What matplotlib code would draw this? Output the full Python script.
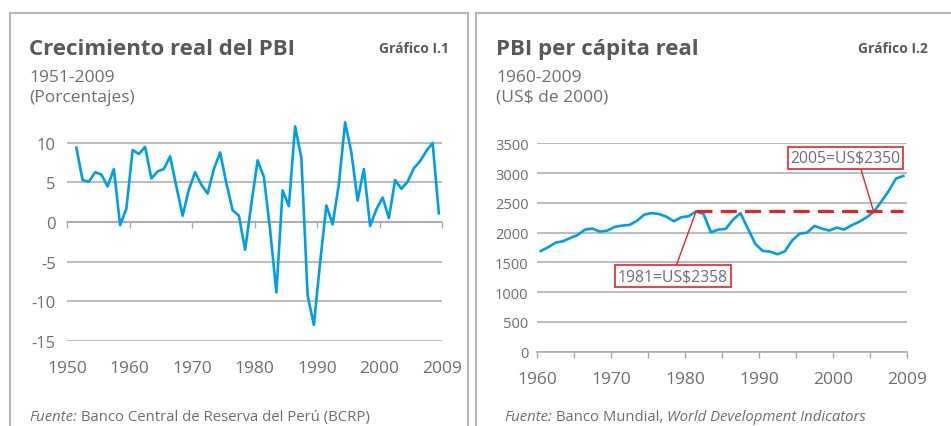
"""
Peru: real GDP growth (1951-2009) and real GDP per capita (1960-2009),
two framed panels side by side.
"""

import matplotlib.pyplot as plt
import numpy as np
from matplotlib.patches import Rectangle

# --- Data --------------------------------------------------------------------
growth_years = np.arange(1951, 2010)
growth_pct = [
    9.4, 5.3, 5.1, 6.3, 6.0, 4.5, 6.7, -0.4, 1.7, 9.1,      # 1951-1960
    8.6, 9.5, 5.5, 6.4, 6.7, 8.3, 4.5, 0.8, 4.1, 6.3,       # 1961-1970
    4.7, 3.6, 6.7, 8.8, 4.9, 1.5, 0.8, -3.5, 2.3, 7.8,      # 1971-1980
    5.7, -1.0, -8.9, 4.0, 2.0, 12.1, 8.1, -9.3, -13.0, -5.1,  # 1981-1990
    2.1, -0.3, 4.8, 12.6, 8.8, 2.7, 6.7, -0.5, 1.6, 3.1,    # 1991-2000
    0.5, 5.3, 4.2, 5.1, 6.8, 7.7, 9.0, 10.0, 1.1,           # 2001-2009
]

pc_years = np.arange(1960, 2010)
pc_usd = [
    1691, 1753, 1831, 1854, 1910, 1961, 2051, 2067, 2017, 2034,  # 1960s
    2096, 2118, 2129, 2197, 2303, 2328, 2312, 2266, 2191, 2258,  # 1970s
    2275, 2358, 2315, 2006, 2051, 2062, 2219, 2326, 2067, 1810,  # 1980s
    1692, 1681, 1636, 1686, 1871, 1983, 2000, 2112, 2067, 2034,  # 1990s
    2084, 2050, 2123, 2179, 2252, 2350, 2515, 2694, 2907, 2952,  # 2000s
]

# 1981 peak and the year it was matched again
ann_years = [1981, 2005]
ann_values = [2358, 2350]

growth_yticks = [-15, -10, -5, 0, 5, 10]
pc_yticks = [0, 500, 1000, 1500, 2000, 2500, 3000, 3500]
growth_xlabels = ["1950", "1960", "1970", "1980", "1990", "2000", "2009"]
pc_xlabels = ["1960", "1970", "1980", "1990", "2000", "2009"]

# --- Style -------------------------------------------------------------------
plt.rcParams["font.family"] = ["Open Sans", "DejaVu Sans"]
plt.rcParams["axes.unicode_minus"] = False
BLUE = "#009fe3"
RED = "#e52521"
GRID = "#a7a9ac"
TXT = "#6d6e71"
TITLE = "#58595b"

W, H = 951, 427
fig = plt.figure(figsize=(W / 100, H / 100), dpi=100)


def fx(px):
    return px / W


def fy(py):
    return 1 - py / H


# panel frames (bottom / right edges run off the picture)
fig.patches.append(Rectangle((fx(10), -0.1), fx(468) - fx(10), fy(14) + 0.1,
                             transform=fig.transFigure, fill=False,
                             edgecolor=GRID, lw=1.2))
fig.patches.append(Rectangle((fx(476), -0.1), 0.6, fy(14) + 0.1,
                             transform=fig.transFigure, fill=False,
                             edgecolor=GRID, lw=1.2))

# --- Headers -----------------------------------------------------------------
for x0, xr, title, sub, unit, tag in [
    (29, 449, "Crecimiento real del PBI", "1951-2009", "(Porcentajes)", "Gráfico I.1"),
    (496, 928, "PBI per cápita real", "1960-2009", "(US\\$ de 2000)", "Gráfico I.2"),
]:
    fig.text(fx(x0), fy(55), title, fontsize=16, fontweight="bold", color=TITLE)
    fig.text(fx(xr), fy(53), tag, fontsize=10, fontweight="bold", color=TITLE, ha="right")
    fig.text(fx(x0), fy(81.5), sub, fontsize=12.5, color=TXT)
    fig.text(fx(x0), fy(102), unit, fontsize=12.5, color=TXT)


# footnotes: pieces chained one after another so italics can be mixed in
def source_line(x0, parts):
    prev = fig.text(fx(x0), fy(421), parts[0][0], fontsize=10.7,
                    style=parts[0][1], color=TXT)
    for txt, st in parts[1:]:
        prev = fig.add_artist(plt.Annotation(txt, xy=(1, 0), xycoords=prev,
                                             va="bottom", fontsize=10.7,
                                             style=st, color=TXT))


source_line(29, [("Fuente:", "italic"),
                 (" Banco Central de Reserva del Perú (BCRP)", "normal")])
source_line(504, [("Fuente:", "italic"), (" Banco Mundial, ", "normal"),
                  ("World Development Indicators", "italic")])

# --- Left: growth ------------------------------------------------------------
ax1 = fig.add_axes([fx(67), fy(341.7), fx(442) - fx(67), (341.7 - 120.2) / H])
ax1.plot(growth_years, growth_pct, color=BLUE, lw=1.9, zorder=3)
ax1.set_xlim(1949.5, 2009.5)
ax1.set_ylim(-15, 13)
ax1.set_yticks(growth_yticks)
ax1.yaxis.grid(True, color=GRID, lw=1.1)
ax1.set_axisbelow(True)
for s in ["left", "right", "top"]:
    ax1.spines[s].set_visible(False)
ax1.spines["bottom"].set_position(("data", 0))
ax1.spines["bottom"].set_color(GRID)
ax1.spines["bottom"].set_linewidth(1.1)
g_ticks = np.arange(1949.5, 2010, 10)
ax1.set_xticks(g_ticks)
ax1.tick_params(axis="x", direction="out", length=4, width=1, color=GRID,
                labelbottom=False)
ax1.tick_params(axis="y", length=0, pad=8, labelsize=12, labelcolor=TXT)
sec1 = ax1.secondary_xaxis("bottom")
sec1.set_xticks(g_ticks, growth_xlabels)
sec1.tick_params(length=0, pad=14, labelsize=12.5, labelcolor=TXT)
sec1.spines["bottom"].set_visible(False)

# --- Right: GDP per capita ---------------------------------------------------
ax2 = fig.add_axes([fx(537), fy(352.7), fx(907) - fx(537), (352.7 - 144.3) / H])
ax2.plot(pc_years, pc_usd, color=BLUE, lw=1.9, zorder=3)
ax2.set_xlim(1959.5, 2009.5)
ax2.set_ylim(0, 3500)
ax2.set_yticks(pc_yticks)
ax2.yaxis.grid(True, color=GRID, lw=1.1)
ax2.set_axisbelow(True)
for s in ["left", "right", "top"]:
    ax2.spines[s].set_visible(False)
ax2.spines["bottom"].set_color(GRID)
ax2.spines["bottom"].set_linewidth(1.1)
ax2.set_xticks(np.arange(1959.5, 2010, 10), pc_xlabels)
ax2.set_xticks(np.arange(1964.5, 2010, 10), minor=True)
ax2.tick_params(axis="x", which="both", direction="out", length=4, width=1,
                color=GRID, pad=10, labelsize=12.5, labelcolor=TXT)
ax2.tick_params(axis="y", length=0, pad=6, labelsize=10.5, labelcolor=TXT)

# 1981 level carried forward
ax2.hlines(ann_values[0], ann_years[0], pc_years[-1], colors=RED, lw=2.3,
           linestyles=(0, (5, 2.6)), zorder=4)

box = dict(boxstyle="square,pad=0.18", facecolor="white", edgecolor=RED, lw=1.2)
for yr, val, xt, yt, rel in [
    (ann_years[0], ann_values[0], 1977.9, 1271, (0.52, 1)),
    (ann_years[1], ann_values[1], 2001.2, 3257, (0.63, 0)),
]:
    ax2.annotate(f"{yr}=US\\${val}", xy=(yr, val), xytext=(xt, yt),
                 ha="center", va="center", fontsize=11.3, color=TXT, bbox=box,
                 arrowprops=dict(arrowstyle="-", color=RED, lw=1, relpos=rel,
                                 shrinkA=0, shrinkB=0),
                 zorder=5)

fig.savefig("out.png", dpi=100, facecolor="white")
